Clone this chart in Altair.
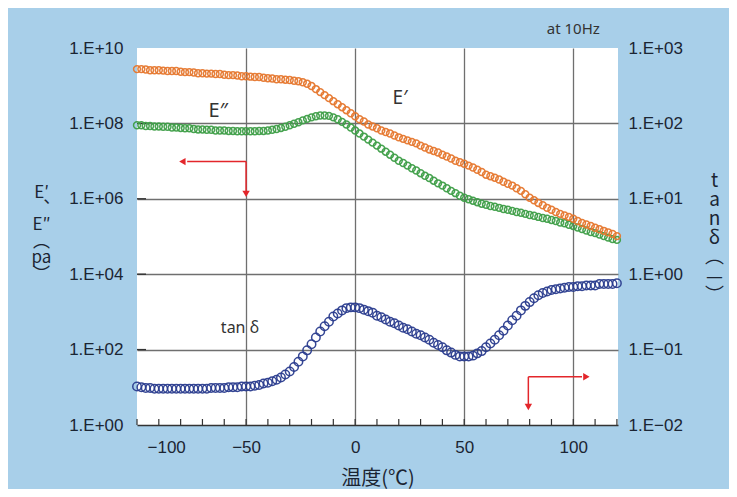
import altair as alt
import pandas as pd

# ---------------- data ----------------
temperature = [-100, -98, -96, -94, -92, -90, -88, -86, -84, -82,
               -80, -78, -76, -74, -72, -70, -68, -66, -64, -62,
               -60, -58, -56, -54, -52, -50, -48, -46, -44, -42,
               -40, -38, -36, -34, -32, -30, -28, -26, -24, -22,
               -20, -18, -16, -14, -12, -10, -8, -6, -4, -2,
               0, 2, 4, 6, 8, 10, 12, 14, 16, 18,
               20, 22, 24, 26, 28, 30, 32, 34, 36, 38,
               40, 42, 44, 46, 48, 50, 52, 54, 56, 58,
               60, 62, 64, 66, 68, 70, 72, 74, 76, 78,
               80, 82, 84, 86, 88, 90, 92, 94, 96, 98,
               100, 102, 104, 106, 108, 110, 112, 114, 116, 118, 120]

# log10 of E' (Pa)
log10_E_storage = [9.44, 9.44, 9.43, 9.41, 9.41, 9.41, 9.40, 9.39, 9.39, 9.39,
                   9.37, 9.36, 9.36, 9.35, 9.33, 9.33, 9.32, 9.32, 9.31, 9.31,
                   9.29, 9.28, 9.28, 9.27, 9.25, 9.25, 9.24, 9.23, 9.23, 9.21,
                   9.20, 9.19, 9.17, 9.17, 9.16, 9.15, 9.13, 9.12, 9.09, 9.05,
                   8.99, 8.91, 8.83, 8.75, 8.67, 8.59, 8.51, 8.43, 8.35, 8.27,
                   8.19, 8.11, 8.05, 7.97, 7.92, 7.87, 7.81, 7.77, 7.73, 7.68,
                   7.63, 7.59, 7.55, 7.51, 7.47, 7.41, 7.36, 7.31, 7.27, 7.23,
                   7.17, 7.12, 7.07, 7.01, 6.97, 6.93, 6.88, 6.83, 6.77, 6.71,
                   6.64, 6.60, 6.56, 6.51, 6.45, 6.40, 6.35, 6.28, 6.21, 6.12,
                   6.03, 5.96, 5.89, 5.83, 5.76, 5.71, 5.65, 5.60, 5.56, 5.52,
                   5.47, 5.41, 5.36, 5.32, 5.28, 5.23, 5.19, 5.15, 5.11, 5.07, 5.01]

# log10 of E'' (Pa)
log10_E_loss = [7.95, 7.95, 7.93, 7.93, 7.92, 7.92, 7.91, 7.91, 7.89, 7.89,
                7.88, 7.87, 7.87, 7.85, 7.84, 7.84, 7.83, 7.83, 7.81, 7.81,
                7.81, 7.80, 7.80, 7.79, 7.79, 7.79, 7.79, 7.79, 7.80, 7.80,
                7.81, 7.83, 7.85, 7.88, 7.91, 7.95, 7.99, 8.03, 8.08, 8.12,
                8.16, 8.19, 8.21, 8.21, 8.20, 8.16, 8.11, 8.04, 7.97, 7.89,
                7.81, 7.73, 7.65, 7.57, 7.49, 7.41, 7.33, 7.25, 7.17, 7.09,
                7.01, 6.95, 6.88, 6.81, 6.75, 6.68, 6.61, 6.55, 6.48, 6.41,
                6.35, 6.28, 6.21, 6.15, 6.08, 6.03, 5.99, 5.95, 5.91, 5.87,
                5.84, 5.81, 5.79, 5.76, 5.73, 5.71, 5.68, 5.65, 5.63, 5.60,
                5.57, 5.55, 5.52, 5.49, 5.47, 5.44, 5.41, 5.37, 5.35, 5.31,
                5.28, 5.24, 5.20, 5.16, 5.12, 5.09, 5.05, 5.01, 4.97, 4.93, 4.91]

# log10 of tan delta (-)
log10_tan_delta = [-1.49, -1.50, -1.51, -1.51, -1.52, -1.52, -1.52, -1.52, -1.52, -1.52,
                   -1.52, -1.52, -1.52, -1.52, -1.52, -1.52, -1.52, -1.51, -1.51, -1.51,
                   -1.51, -1.50, -1.50, -1.50, -1.49, -1.49, -1.49, -1.48, -1.47, -1.45,
                   -1.44, -1.42, -1.40, -1.37, -1.33, -1.29, -1.23, -1.16, -1.09, -1.01,
                   -0.93, -0.84, -0.76, -0.69, -0.63, -0.56, -0.52, -0.48, -0.45, -0.44,
                   -0.44, -0.45, -0.47, -0.49, -0.51, -0.55, -0.57, -0.60, -0.63, -0.65,
                   -0.68, -0.71, -0.73, -0.76, -0.79, -0.81, -0.84, -0.87, -0.91, -0.94,
                   -0.97, -1.01, -1.04, -1.07, -1.09, -1.09, -1.09, -1.08, -1.05, -1.02,
                   -0.97, -0.92, -0.87, -0.81, -0.75, -0.68, -0.61, -0.55, -0.48, -0.42,
                   -0.37, -0.32, -0.28, -0.25, -0.23, -0.21, -0.20, -0.19, -0.18, -0.17,
                   -0.17, -0.16, -0.16, -0.15, -0.15, -0.15, -0.13, -0.13, -0.13, -0.13, -0.12]

x_ticks = [-100, -50, 0, 50, 100]
x_minor_ticks = [-100, -90, -80, -70, -60, -50, -40, -30, -20, -10, 0,
                 10, 20, 30, 40, 50, 60, 70, 80, 90, 100, 110, 120]
left_ticks = [1, 1e2, 1e4, 1e6, 1e8, 1e10]
right_ticks = [0.01, 0.1, 1, 10, 100, 1000]

# annotation texts, anchored in data units (T, value on left axis)
label_texts = ["E″", "E′", "tan δ", "at 10Hz"]
label_T = [-62.8, 20.6, -52.8, 100]
label_v = [2.1e8, 4.7e8, 363, 3.1e10]

# red arrows (left-axis units)
arrow_h_T = [-50, 79.4]
arrow_h_T2 = [-77, 104]
arrow_h_v = [9.7e6, 19]
arrow_v_T = [-50, 79.4]
arrow_v_v = [9.7e6, 19]
arrow_v_v2 = [1.6e6, 3.6]
head_h_T = [-79.2, 106]
head_h_v = [9.7e6, 19]
head_h_shape = ["triangle-left", "triangle-right"]
head_v_T = [-50, 79.4]
head_v_v = [1.35e6, 3.0]

# ---------------- frames ----------------
df = pd.DataFrame({
    "T": temperature,
    "Es": [10 ** v for v in log10_E_storage],
    "El": [10 ** v for v in log10_E_loss],
    "tan": [10 ** v for v in log10_tan_delta],
})
minor_df = pd.DataFrame({"T": x_minor_ticks})
stub_df = pd.DataFrame({"v": [1e2, 1e4, 1e6, 1e8]})
labels_df = pd.DataFrame({"T": label_T, "v": label_v, "txt": label_texts})
arrow_h_df = pd.DataFrame({"T": arrow_h_T, "T2": arrow_h_T2, "v": arrow_h_v})
arrow_v_df = pd.DataFrame({"T": arrow_v_T, "v": arrow_v_v, "v2": arrow_v_v2})
head_h_df = pd.DataFrame({"T": head_h_T, "v": head_h_v, "shape": head_h_shape})
head_v_df = pd.DataFrame({"T": head_v_T, "v": head_v_v})

# ---------------- styling ----------------
W, H = 481, 377
LABEL_FONT = "Liberation Sans"
CJK_FONT = "Noto Sans CJK JP"
INK = "#1b2533"
GRID = "#6f6f6f"
RED = "#e3262b"

x_scale = alt.Scale(domain=[-100, 120.5], nice=False, zero=False)
yL_scale = alt.Scale(type="log", domain=[1, 1e10], nice=False)
yR_scale = alt.Scale(type="log", domain=[0.01, 1000], nice=False)

x_axis = alt.Axis(
    values=x_ticks,
    labelExpr="datum.value < 0 ? '−' + abs(datum.value) : '' + datum.value",
    labelFlush=True, labelFlushOffset=-10,
    grid=True, gridColor=GRID, gridWidth=1.3,
    gridOpacity={"condition": {"test": "datum.value == -100", "value": 0}, "value": 1},
    domain=True, domainColor="#333333", domainWidth=1.5,
    ticks=False, tickSize=0, labelPadding=14,
    labelFont=LABEL_FONT, labelFontSize=17, labelColor=INK,
    title="温度(℃)", titleFont=CJK_FONT, titleFontSize=20, titleFontWeight="normal",
    titleColor=INK, titleY=43, titleBaseline="top",
)
yL_axis = alt.Axis(
    orient="left", values=left_ticks,
    labelExpr="'1.E+' + (round(log(datum.value)/LN10) < 10 ? '0' : '') + round(log(datum.value)/LN10)",
    grid=True, gridColor=GRID, gridWidth=1.3,
    gridOpacity={"condition": {"test": "datum.value > 5e9 || datum.value < 2", "value": 0}, "value": 1},
    domain=False, ticks=False, tickSize=0, labelPadding=14,
    labelFont=LABEL_FONT, labelFontSize=17, labelColor=INK,
    title=["E′", "︑", "E″", "︵", "pa", "︶"], titleAngle=0, titleX=-96, titleY=136,
    titleAlign="center", titleBaseline="top", titleLineHeight=16.4,
    titleFont=CJK_FONT, titleFontSize=17, titleFontWeight="normal", titleColor=INK,
)
yR_axis = alt.Axis(
    orient="right", values=right_ticks,
    labelExpr="'1.E' + (round(log(datum.value)/LN10) < 0 ? '−' : '+') + '0' + abs(round(log(datum.value)/LN10))",
    grid=False, domain=False, ticks=False, tickSize=0, labelPadding=10,
    labelFont=LABEL_FONT, labelFontSize=17, labelColor=INK,
    title=["t", "a", "n", "δ", "︵", "—", "︶"], titleAngle=0, titleX=96, titleY=123,
    titleAlign="center", titleBaseline="top", titleLineHeight=19.2,
    titleFont=CJK_FONT, titleFontSize=19, titleFontWeight="normal", titleColor=INK,
)

X = alt.X("T:Q", scale=x_scale, axis=x_axis)
YL = alt.Y("v:Q", scale=yL_scale, axis=yL_axis)

base = alt.Chart(df)

loss = base.mark_point(shape="circle", filled=False, size=48, strokeWidth=1.5,
                       color="#3f9f48", opacity=0.95).encode(
    x=X, y=alt.Y("El:Q", scale=yL_scale, axis=yL_axis))
storage = base.mark_point(shape="circle", filled=False, size=48, strokeWidth=1.5,
                          color="#e6782f", opacity=0.95).encode(
    x=X, y=alt.Y("Es:Q", scale=yL_scale, axis=yL_axis))
tan = base.mark_point(shape="circle", filled=False, size=72, strokeWidth=1.5,
                      color="#2b3d8f", opacity=0.95).encode(
    x=X, y=alt.Y("tan:Q", scale=yR_scale, axis=yR_axis))

minor = alt.Chart(minor_df).mark_rule(color="#333333", strokeWidth=1.2).encode(
    x=X, y=alt.value(H), y2=alt.value(H - 6))
stubs = alt.Chart(stub_df).mark_rule(color="#333333", strokeWidth=1.4).encode(
    y=YL, x=alt.value(0), x2=alt.value(9))

arrow_h = alt.Chart(arrow_h_df).mark_rule(color=RED, strokeWidth=1.5).encode(
    x=X, x2="T2:Q", y=YL)
arrow_v = alt.Chart(arrow_v_df).mark_rule(color=RED, strokeWidth=1.5).encode(
    x=X, y=YL, y2="v2:Q")
head_h = alt.Chart(head_h_df).mark_point(filled=True, size=55, color=RED, opacity=1).encode(
    x=X, y=YL, shape=alt.Shape("shape:N", scale=None, legend=None))
head_v = alt.Chart(head_v_df).mark_point(shape="triangle-down", filled=True, size=55,
                                         color=RED, opacity=1).encode(x=X, y=YL)

texts = []
sizes = {"E″": 20, "E′": 19, "tan δ": 16, "at 10Hz": 15}
for t in label_texts:
    texts.append(
        alt.Chart(labels_df[labels_df.txt == t]).mark_text(
            font="Noto Sans", fontSize=sizes[t], color="#333333", baseline="middle",
            align="center").encode(x=X, y=YL, text="txt:N")
    )

left = alt.layer(minor, stubs, loss, storage, arrow_h, arrow_v, head_h, head_v, *texts)
chart = alt.layer(left, tan).resolve_scale(y="independent").properties(
    width=W, height=H,
    autosize=alt.AutoSizeParams(type="none"),
    padding={"left": 129, "top": 40, "right": 111, "bottom": 64},
).configure(background="#a8cfe9").configure_view(fill="white", strokeWidth=0)

chart.save("out.html", embed_options={"renderer": "svg", "actions": False})
